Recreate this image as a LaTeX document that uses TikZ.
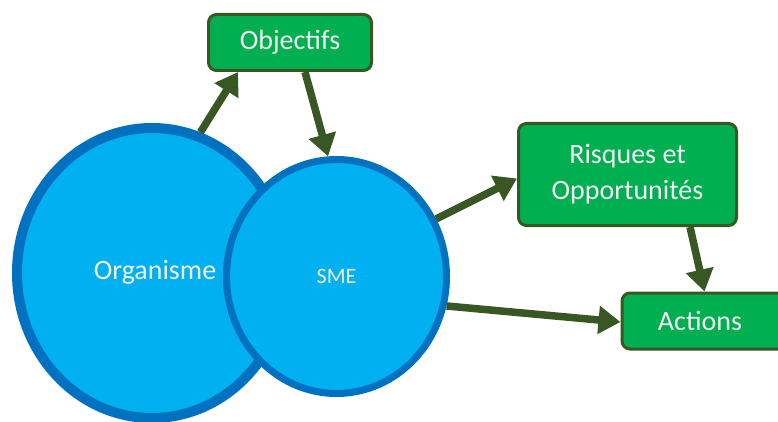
\documentclass[tikz,border=0pt]{standalone}
\usepackage{fontspec}
\setmainfont{Carlito}
\usetikzlibrary{shapes.geometric,arrows.meta,calc}
\definecolor{cyanfill}{HTML}{00B0F0}
\definecolor{blueline}{HTML}{0070C0}
\definecolor{greenfill}{HTML}{00B050}
\definecolor{darkgreen}{HTML}{385723}
\definecolor{lighttext}{HTML}{F2F2F2}
\tikzset{
  circ/.style={ellipse,fill=cyanfill,draw=blueline,inner sep=0pt,text=lighttext},
  gbox/.style={rectangle,rounded corners=8pt,fill=greenfill,draw=darkgreen,line width=3pt,inner sep=0pt,text=lighttext,align=center,font=\fontsize{28}{36}\selectfont},
  arr/.style={draw=darkgreen,line width=7.5pt,-{Triangle[length=22pt,width=27pt]}}
}
\begin{document}
\begin{tikzpicture}[x=1pt,y=1pt]
\useasboundingbox (0,0) rectangle (778,421);
\node[circ,line width=10pt,minimum width=270pt,minimum height=290pt] (org) at (152,148) {};
\node[text=lighttext,font=\fontsize{28}{34}\selectfont] (orgtext) at (155,149) {Organisme};
\node[circ,line width=7pt,minimum width=220pt,minimum height=234pt,font=\fontsize{22}{26}\selectfont] (sme) at (336.5,144.5) {SME};
\node[gbox,minimum width=163pt,minimum height=56pt] (obj) at (290,378.5) {Objectifs};
\node[gbox,minimum width=218pt,minimum height=102pt] (ris) at (627.5,246.5) {Risques et\\Opportunités};
\node[gbox,minimum width=170pt,minimum height=56pt,text width=170pt] (act) at (707,100) {\hspace*{-14pt}Actions};
\coordinate (objA) at ($(obj.south west)+(31,0)$);
\coordinate (objB) at ($(obj.south west)+(98,0)$);
\coordinate (risW) at ($(ris.west)+(0,-4)$);
\coordinate (actW) at ($(act.west)+(0,-1)$);
\coordinate (actN) at ($(act.north west)+(84,0)$);
\coordinate (risS) at ($(ris.south west)+(173,0)$);
\draw[arr] (org.71) -- (objA);
\draw[arr] (objB) -- (sme.94);
\draw[arr] (sme.30) -- (risW);
\draw[arr] (sme.-15) -- (actW);
\draw[arr] (risS) -- (actN);
\end{tikzpicture}
\end{document}
